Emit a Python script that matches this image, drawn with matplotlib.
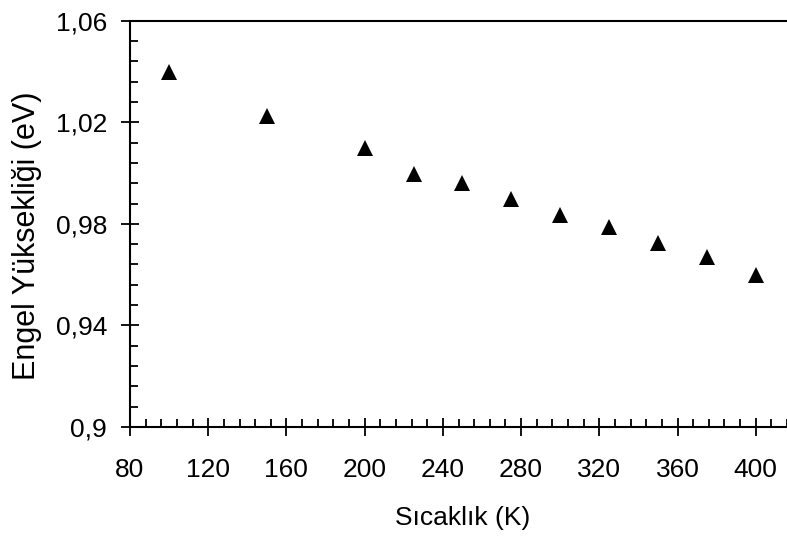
import matplotlib
matplotlib.use('Agg')
import matplotlib.pyplot as plt
from matplotlib.ticker import MultipleLocator, FixedLocator, FuncFormatter

plt.rcParams['font.family'] = ['Liberation Sans', 'DejaVu Sans']

# sicaklik (K) ve engel yuksekligi (eV)
temp = [100, 150, 200, 225, 250, 275, 300, 325, 350, 375, 400]
barrier = [1.0397, 1.0225, 1.0098, 0.9997, 0.9960, 0.9898, 0.9833, 0.9786, 0.9725, 0.9668, 0.9598]

y_major = [0.9, 0.94, 0.98, 1.02, 1.06]
y_minor = [0.9 + 0.008 * i for i in range(21)]

fig = plt.figure(figsize=(7.87, 5.42), dpi=100)
ax = fig.add_axes([130/787, (542-427)/542, 1 - 130/787, (427-20.7)/542])

ax.plot(temp, barrier, '^', color='black', markersize=11.5, markeredgewidth=0)

ax.set_xlim(80, 416)
ax.set_ylim(0.9, 1.06)

ax.xaxis.set_major_locator(MultipleLocator(40))
ax.xaxis.set_minor_locator(MultipleLocator(8))
ax.yaxis.set_major_locator(FixedLocator(y_major))
ax.yaxis.set_minor_locator(FixedLocator(y_minor))

comma = FuncFormatter(lambda v, p: f'{round(v, 3):g}'.replace('.', ','))
ax.yaxis.set_major_formatter(comma)

ax.spines['right'].set_visible(False)
for s in ['left', 'bottom', 'top']:
    ax.spines[s].set_linewidth(1.5)

ax.tick_params(which='major', direction='inout', length=13, width=1.3, labelsize=19)
ax.tick_params(axis='x', which='major', pad=16)
ax.tick_params(axis='y', which='major', pad=10)
ax.tick_params(which='minor', direction='in', length=6, width=1.3)
ax.tick_params(top=False, right=False, which='both')

ax.set_xlabel('Sıcaklık (K)', fontsize=19)
ax.set_ylabel('Engel Yüksekliği (eV)', fontsize=22)
ax.xaxis.set_label_coords(0.507, -0.195)
ax.yaxis.set_label_coords(-0.134, 0.47)

fig.savefig('out.png', dpi=100)
